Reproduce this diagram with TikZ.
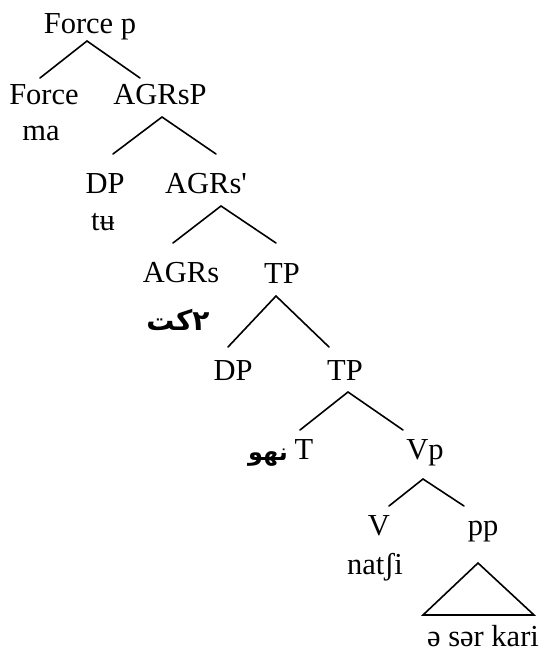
\documentclass[tikz,border=0pt]{standalone}
\usepackage{fontspec}
\setmainfont{Liberation Serif}[Ligatures=TeXOff]
\newfontfamily\arabicfont[Script=Arabic]{DejaVu Sans}
\TeXXeTstate=1
\begin{document}
\begin{tikzpicture}[x=1pt,y=-1pt,
  lab/.style={anchor=base,inner sep=0pt,font=\fontsize{30.5}{36}\selectfont},
  arb/.style={anchor=base,inner sep=0pt,font=\arabicfont\bfseries\fontsize{24}{28}\selectfont},
  br/.style={line width=1.6pt,line cap=round}]
\useasboundingbox (0,0) rectangle (539,656);
% labels
\node[lab] (forcep) at (90,33) {Force p};
\node[lab] (force) at (44,104) {Force};
\node[lab] (agrsp) at (160,104) {AGRsP};
\node[lab] (ma) at (41,140) {ma};
\node[lab] (dp1) at (105,193) {DP};
\node[lab] (agrsbar) at (206,193) {AGRs'};
\node[lab] (tu) at (103,230) {tʉ};
\node[lab] (agrs) at (181,282) {AGRs};
\node[lab] (tp1) at (282,283) {TP};
\node[arb,font=\arabicfont\bfseries\fontsize{28}{32}\selectfont] (kt) at (178,330) {\beginR ٢كت\endR};
\node[lab] (dp2) at (233,380) {DP};
\node[lab] (tp2) at (345,380) {TP};
\node[lab] (t) at (304,459) {T};
\node[arb] (nhw) at (268,460) {\beginR نهو\endR};
\node[lab] (vp) at (425,459) {Vp};
\node[lab] (v) at (379,535) {V};
\node[lab] (pp) at (483,535) {pp};
\node[lab] (natsi) at (375,574) {natʃi};
\node[lab] (eserkari) at (483,646) {ə sər kari};
% branch points
\coordinate (a0) at (87,41);   \coordinate (a0l) at (40,78);  \coordinate (a0r) at (140,78);
\coordinate (a1) at (162,117); \coordinate (a1l) at (113,154); \coordinate (a1r) at (216,154);
\coordinate (a2) at (221,206); \coordinate (a2l) at (173,243); \coordinate (a2r) at (276,243);
\coordinate (a3) at (276,296); \coordinate (a3l) at (228,347); \coordinate (a3r) at (329,347);
\coordinate (a4) at (348,392); \coordinate (a4l) at (300,430); \coordinate (a4r) at (403,430);
\coordinate (a5) at (423,479); \coordinate (a5l) at (389,506); \coordinate (a5r) at (464,506);
\coordinate (tri) at (478,563); \coordinate (tril) at (423,615); \coordinate (trir) at (534,615);
\draw[br] (a0l) -- (a0) -- (a0r);
\draw[br] (a1l) -- (a1) -- (a1r);
\draw[br] (a2l) -- (a2) -- (a2r);
\draw[br] (a3l) -- (a3) -- (a3r);
\draw[br] (a4l) -- (a4) -- (a4r);
\draw[br] (a5l) -- (a5) -- (a5r);
\draw[br,line join=miter] (tri) -- (tril) -- (trir) -- cycle;
\end{tikzpicture}
\end{document}
